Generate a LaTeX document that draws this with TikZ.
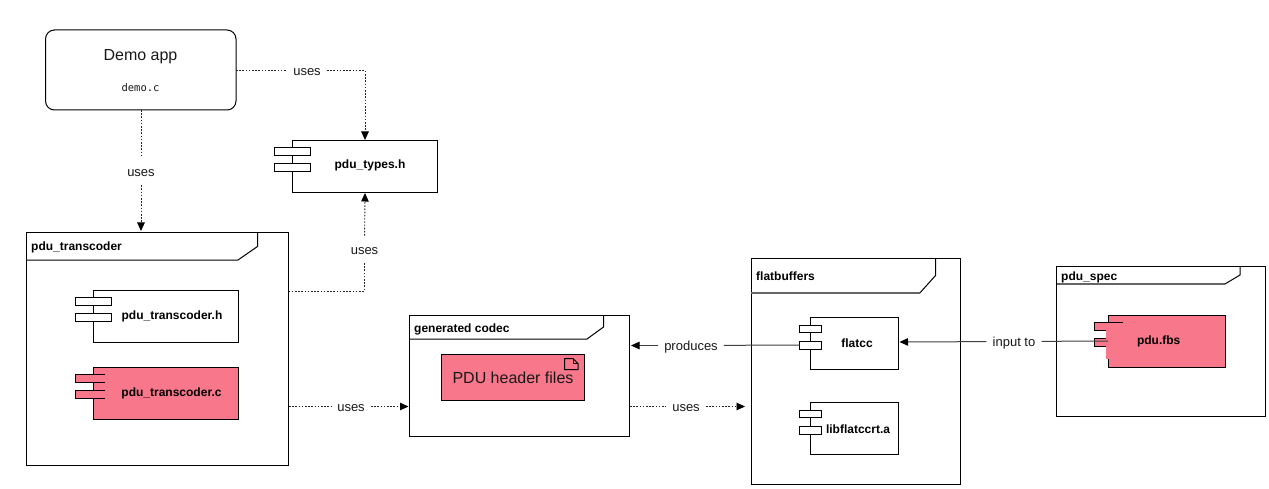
\documentclass[tikz,border=0pt]{standalone}
\usepackage{fontspec}
\setmainfont{Liberation Sans}
\setmonofont{DejaVu Sans Mono}
\usetikzlibrary{arrows.meta}
\definecolor{pinkfill}{HTML}{F8778A}
\tikzset{
  x=1pt,y=-1pt,
  line/.style={draw=black,line width=1pt},
  comp/.style={line,fill=#1},
  comp/.default=white,
  blur/.style={draw=black!60,line width=1.7pt},
  lbl/.style={font=\fontsize{13}{15}\selectfont,inner sep=0pt,text=black!90,text height=13pt,text depth=2.2pt,fill=white,inner xsep=6pt},
  title/.style={font=\fontsize{12}{14}\selectfont\bfseries,inner sep=0pt,anchor=base west},
  cname/.style={font=\fontsize{12}{14}\selectfont\bfseries,inner sep=0pt},
  tipb/.style={-{Triangle[length=8.5pt,width=7.5pt,black]}},
  dep/.style={draw=black!85,line width=.9pt,dash pattern=on 1.6pt off 1.6pt,tipb},
  depn/.style={draw=black!85,line width=.9pt,dash pattern=on 1.6pt off 1.6pt},
  sol/.style={draw=black!75,line width=1pt,tipb},
  soln/.style={draw=black!75,line width=1pt}
}
\begin{document}
\begin{tikzpicture}
\useasboundingbox (0,0) rectangle (1269,489);
\fill[white] (0,0) rectangle (1269,489);

% frames
\draw[line] (26.5,232.5) rectangle (288.5,465.5);
\draw[line] (26.5,260) -- (238,260) -- (257.5,246.5) -- (257.5,232.5);
\node[title] at (31,251) {pdu\_transcoder};
\draw[line] (409.5,315.5) rectangle (629.5,436.5);
\draw[line] (409.5,339) -- (587,339) -- (603.5,327) -- (603.5,315.5);
\node[title] at (414,332.5) {generated codec};
\draw[line] (751.3,258.5) rectangle (960.7,484.5);
\draw[blur] (751.3,292.8) -- (920,292.8);
\draw[line] (920,292.8) -- (935.7,275.3) -- (935.7,258.5);
\node[title] at (756,280) {flatbuffers};
\draw[line] (1056.5,266.5) rectangle (1265.5,416);
\draw[blur] (1056.5,284) -- (1225,284);
\draw[line] (1225,284) -- (1240,275) -- (1240,266.5);
\node[title] at (1061,280) {pdu\_spec};

% demo
\node[line,rounded corners=9pt,minimum width=190.5pt,minimum height=80pt,inner sep=0pt] (demo) at (140.75,70) {};
\node[font=\fontsize{16}{18}\selectfont,inner sep=0pt,text=black!90] (demot) at (140.5,56.5) {Demo app};
\node[font=\ttfamily\fontsize{10.5}{12}\selectfont,inner sep=0pt,text=black!90] (democ) at (140.5,87.5) {demo.c};

% types
\draw[line] (292,140.5) rectangle (437,192.5);
\draw[comp] (274.5,147.5) rectangle (310.5,155.5);
\draw[comp] (274.5,163.5) rectangle (310.5,171.5);
\coordinate (typesN) at (365,140);
\coordinate (typesS) at (365,193);
\node[cname] at (370,165.5) {pdu\_types.h};

% transcoder.h
\draw[line] (93,290) rectangle (238,342);
\draw[comp] (75.5,297.5) rectangle (111.5,305.5);
\draw[comp] (75.5,313.5) rectangle (111.5,321.5);
\node[cname] at (172,316.5) {pdu\_transcoder.h};

% transcoder.c
\draw[comp=pinkfill] (93,367) rectangle (238,419);
\fill[pinkfill,draw=black,line width=1pt] (105,374.5) -- (75.5,374.5) -- (75.5,382.5) -- (105,382.5);
\fill[pinkfill,draw=black,line width=1pt] (105,390.5) -- (75.5,390.5) -- (75.5,398.5) -- (105,398.5);
\node[cname] at (171.5,393.5) {pdu\_transcoder.c};

% header
\draw[comp=pinkfill] (441.5,354.5) rectangle (584.5,400.5);
\draw[line width=1pt] (564.5,358.5) -- (573,358.5) -- (578,363.5) -- (578,369.5) -- (564.5,369.5) -- cycle;
\draw[line width=1pt] (573,358.5) -- (573,363.5) -- (578,363.5);
\node[font=\fontsize{16}{18}\selectfont,inner sep=0pt,text=black!90] at (513,378) {PDU header files};

% flatcc
\draw[line] (810.5,317.5) rectangle (898.5,369.5);
\draw[comp] (799.5,325) rectangle (821.5,332.5);
\draw[comp] (799.5,341) rectangle (821.5,349);
\node[cname] at (857,343.5) {flatcc};

% lib
\draw[line] (810.5,402.5) rectangle (898.5,454.5);
\draw[comp] (799.5,410) rectangle (821.5,417.5);
\draw[comp] (799.5,426) rectangle (821.5,434);
\node[cname] at (858,429.5) {libflatccrt.a};

% pdu.fbs
\draw[comp=pinkfill] (1108.5,315.5) rectangle (1225,367.5);
\fill[pinkfill,draw=black,line width=1pt] (1106,330) -- (1094.3,330) -- (1094.3,322.5) -- (1122.7,322.5);
\fill[pinkfill,draw=black,line width=1pt] (1106,338.3) -- (1094.3,338.3) -- (1094.3,346.3) -- (1106,346.3);
\fill[pinkfill] (1106,323) rectangle (1123,358.7);
\node[cname] at (1158.7,341.5) {pdu.fbs};

% connectors
\node[lbl] (l1) at (307,70.5) {uses};
\draw[depn] (236,70.5) -- (l1);
\draw[dep] (l1) -- (365,70.5) -- (typesN);
\node[lbl,inner ysep=6pt] (l2) at (141,171.5) {uses};
\draw[depn] (141,110) -- (l2);
\draw[dep] (l2) -- (141,231);
\node[lbl,inner ysep=6pt] (l3) at (364.5,249.5) {uses};
\draw[depn] (288.5,291) -- (364.5,291) -- (l3);
\draw[dep] (l3) -- (typesS);
\node[lbl] (l4) at (351,406.5) {uses};
\draw[depn] (289,406.5) -- (l4);
\draw[dep] (l4) -- (408.5,406.5);
\node[lbl] (l5) at (686,406.5) {uses};
\draw[depn] (630,406.5) -- (l5);
\draw[dep] (l5) -- (745,406.5);
\node[lbl] (l6) at (691,345.5) {produces};
\draw[soln] (799.5,345) -- (l6);
\draw[sol] (l6) -- (631,345.5);
\node[lbl] (l7) at (1014,341.5) {input to};
\draw[soln] (1108,341) -- (l7);
\draw[sol] (l7) -- (899.5,342);
\end{tikzpicture}
\end{document}
